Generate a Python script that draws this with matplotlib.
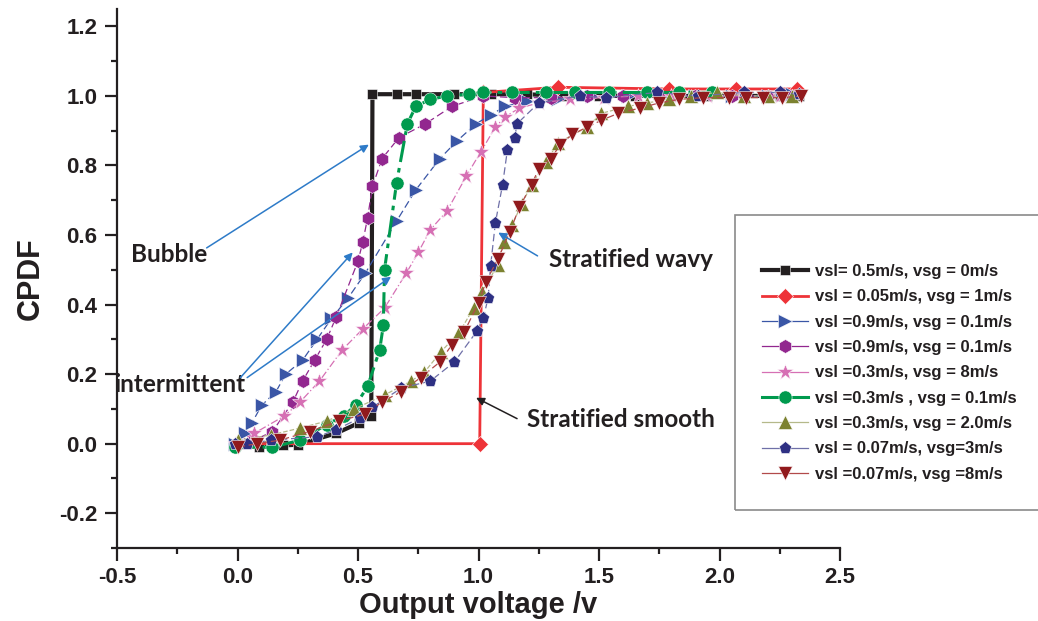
import numpy as np
import matplotlib
matplotlib.use("Agg")
from matplotlib import pyplot as plt
from matplotlib.patches import Rectangle
from matplotlib.lines import Line2D
from matplotlib.ticker import MultipleLocator

# CPDF curves
x_black = [0.0, 0.09, 0.19, 0.25, 0.41, 0.505, 0.555, 0.56, 0.66, 0.74, 0.9, 1.05, 1.2, 1.35, 1.5, 1.65, 1.8, 1.95, 2.1, 2.25, 2.33]
y_black = [0.0, -0.01, -0.005, -0.003, 0.03, 0.06, 0.08, 1.005, 1.005, 1.005, 1.005, 1.005, 1.005, 1.0, 1.0, 1.0, 1.0, 1.0, 1.0, 1.0, 1.0]

x_red = [0.0, 1.005, 1.02, 1.33, 1.79, 2.07, 2.32]
y_red = [0.0, 0.0, 1.01, 1.025, 1.02, 1.02, 1.02]

x_blue = [-0.01, 0.03, 0.06, 0.10, 0.16, 0.20, 0.27, 0.33, 0.39, 0.46, 0.53, 0.66, 0.74, 0.84, 0.91, 0.99, 1.05, 1.11,
          1.2, 1.33, 1.47, 1.62, 1.77, 1.9, 2.05, 2.2, 2.3]
y_blue = [0.0, 0.03, 0.06, 0.11, 0.15, 0.20, 0.24, 0.30, 0.36, 0.42, 0.49, 0.64, 0.73, 0.82, 0.87, 0.92, 0.945, 0.97,
          0.985, 0.99, 1.0, 1.0, 1.0, 1.0, 1.0, 1.0, 1.005]

x_purple = [0.0, 0.07, 0.145, 0.23, 0.27, 0.32, 0.37, 0.41, 0.50, 0.52, 0.54, 0.56, 0.60, 0.67, 0.78, 0.89, 1.02,
            1.15, 1.3, 1.45, 1.6, 1.75, 1.9, 2.05, 2.2, 2.3]
y_purple = [0.0, 0.01, 0.035, 0.12, 0.18, 0.24, 0.30, 0.365, 0.525, 0.58, 0.65, 0.74, 0.82, 0.88, 0.92, 0.97, 1.0,
            0.995, 0.995, 1.0, 1.0, 1.0, 1.0, 1.0, 1.0, 1.0]

x_pink = [-0.01, 0.07, 0.195, 0.26, 0.34, 0.435, 0.52, 0.61, 0.70, 0.75, 0.80, 0.87, 0.95, 1.01, 1.07, 1.11, 1.17,
          1.25, 1.38, 1.52, 1.66, 1.8, 1.95, 2.1, 2.25]
y_pink = [0.0, 0.03, 0.08, 0.12, 0.18, 0.27, 0.33, 0.39, 0.49, 0.55, 0.615, 0.67, 0.77, 0.84, 0.91, 0.94, 0.965,
          0.98, 0.99, 0.995, 1.0, 1.0, 1.0, 1.0, 1.0]

x_green = [-0.01, 0.145, 0.26, 0.37, 0.44, 0.49, 0.54, 0.59, 0.605, 0.61, 0.66, 0.705, 0.74, 0.80, 0.87, 0.96, 1.02,
           1.14, 1.28, 1.40, 1.54, 1.70, 1.83, 1.97]
y_green = [-0.01, -0.01, 0.01, 0.055, 0.08, 0.11, 0.165, 0.27, 0.34, 0.50, 0.75, 0.92, 0.97, 0.99, 1.0, 1.005, 1.01,
           1.01, 1.01, 1.01, 1.01, 1.01, 1.01, 1.01]

x_olive = [0.0, 0.14, 0.26, 0.37, 0.485, 0.61, 0.72, 0.775, 0.845, 0.92, 0.98, 1.015, 1.08, 1.105, 1.14, 1.18, 1.22,
           1.28, 1.33, 1.45, 1.51, 1.62, 1.70, 1.79, 1.88, 1.99, 2.1, 2.2, 2.3]
y_olive = [0.01, 0.025, 0.045, 0.065, 0.10, 0.14, 0.18, 0.205, 0.265, 0.32, 0.39, 0.435, 0.515, 0.58, 0.63, 0.69, 0.745,
           0.81, 0.865, 0.91, 0.95, 0.97, 0.98, 0.99, 1.0, 1.01, 1.0, 1.0, 1.0]

x_navy = [-0.01, 0.04, 0.14, 0.33, 0.41, 0.51, 0.56, 0.68, 0.80, 0.90, 0.995, 1.02, 1.04, 1.05, 1.07, 1.10, 1.12, 1.15,
          1.16, 1.25, 1.42, 1.53, 1.74, 1.91, 2.10, 2.25, 2.33]
y_navy = [0.0, 0.0, 0.01, 0.02, 0.04, 0.075, 0.105, 0.16, 0.18, 0.235, 0.325, 0.36, 0.42, 0.51, 0.635, 0.745, 0.845,
          0.88, 0.92, 0.98, 1.0, 0.995, 1.01, 1.0, 1.01, 1.01, 1.005]

x_dred = [0.0, 0.08, 0.175, 0.30, 0.42, 0.53, 0.60, 0.68, 0.76, 0.84, 0.89, 0.94, 1.00, 1.03, 1.08, 1.13, 1.17, 1.22,
          1.25, 1.30, 1.34, 1.39, 1.45, 1.51, 1.58, 1.67, 1.75, 1.83, 1.93, 2.04, 2.11, 2.18, 2.26, 2.34]
y_dred = [-0.01, 0.0, 0.01, 0.035, 0.065, 0.085, 0.12, 0.15, 0.19, 0.235, 0.285, 0.32, 0.405, 0.465, 0.53, 0.61, 0.68,
          0.745, 0.79, 0.82, 0.86, 0.89, 0.91, 0.93, 0.95, 0.965, 0.98, 0.99, 0.995, 0.995, 0.995, 0.995, 0.995, 1.0]

labels = ["vsl= 0.5m/s, vsg = 0m/s",
          "vsl = 0.05m/s, vsg = 1m/s",
          "vsl =0.9m/s, vsg = 0.1m/s",
          "vsl =0.9m/s, vsg = 0.1m/s",
          "vsl =0.3m/s, vsg = 8m/s",
          "vsl =0.3m/s , vsg = 0.1m/s",
          "vsl =0.3m/s, vsg = 2.0m/s",
          "vsl = 0.07m/s, vsg=3m/s",
          "vsl =0.07m/s, vsg =8m/s"]

fig = plt.figure(figsize=(10.38, 6.21), dpi=100)
ax = fig.add_axes([117/1038, 1 - 548/621, (840 - 117)/1038, (548 - 9)/621])

wk = dict(markeredgecolor="white", markeredgewidth=0.4)
lines = []
lines += ax.plot(x_black, y_black, "-", color="#231F20", lw=3, marker="s", ms=7, **wk)
lines += ax.plot(x_red, y_red, "-", color="#EE3338", lw=2, marker="D", ms=8, **wk)
lines += ax.plot(x_blue, y_blue, color="#3A56A6", lw=0.9, ls=(0, (6, 3)), marker=">", ms=10, **wk)
lines += ax.plot(x_purple, y_purple, color="#92278F", lw=0.9, ls=(0, (6, 3)), marker="h", ms=10, **wk)
lines += ax.plot(x_pink, y_pink, color="#D670B4", lw=0.9, ls=(0, (6, 2, 1, 2)), marker="*", ms=12, **wk)
lines += ax.plot(x_green, y_green, color="#009A4E", lw=2.2, ls=(0, (7, 2, 1.5, 2)), marker="o", ms=9.5, **wk)
lines += ax.plot(x_olive, y_olive, color="#B5B98A", lw=0.9, ls="--", marker="^", ms=10,
                 markerfacecolor="#7C8230", **wk)
lines += ax.plot(x_navy, y_navy, color="#6F70A8", lw=0.9, ls=(0, (6, 3)), marker="p", ms=9.5,
                 markerfacecolor="#2E3083", **wk)
lines += ax.plot(x_dred, y_dred, color="#B24A4A", lw=0.9, ls=(0, (6, 3)), marker="v", ms=10,
                 markerfacecolor="#911A1D", **wk)

ax.set_xlim(-0.5, 2.5)
ax.set_ylim(-0.3, 1.25)
ax.spines["top"].set_visible(False)
ax.spines["right"].set_visible(False)
for s in ("left", "bottom"):
    ax.spines[s].set_linewidth(1.6)
    ax.spines[s].set_color("#231F20")

ax.xaxis.set_major_locator(MultipleLocator(0.5))
ax.xaxis.set_minor_locator(MultipleLocator(0.25))
ax.yaxis.set_major_locator(MultipleLocator(0.2))
ax.yaxis.set_minor_locator(MultipleLocator(0.1))
ax.tick_params(which="major", direction="out", length=9, width=1.6, color="#231F20", pad=5)
ax.tick_params(which="minor", direction="out", length=4.5, width=1.6, color="#231F20")
ax.set_yticks([-0.2, 0.0, 0.2, 0.4, 0.6, 0.8, 1.0, 1.2])

tick_font = ["Liberation Sans Narrow", "Liberation Sans", "DejaVu Sans"]
ax.set_xticks([-0.5, 0.0, 0.5, 1.0, 1.5, 2.0, 2.5])
ax.set_xticklabels(["%.1f" % v for v in ax.get_xticks()])
ax.set_yticklabels(["%.1f" % v for v in ax.get_yticks()])
for t in ax.get_xticklabels() + ax.get_yticklabels():
    t.set_fontfamily(tick_font)
    t.set_fontweight("bold")
    t.set_fontsize(16)
    t.set_color("#231F20")

ax.set_xlabel("Output voltage /v", fontsize=21, fontweight="bold", family=["Liberation Sans", "DejaVu Sans"],
              color="#231F20", labelpad=2)
ax.set_ylabel("CPDF", fontsize=22, fontweight="bold", family=["Liberation Sans", "DejaVu Sans"],
              color="#231F20", labelpad=10)

# flow-regime annotations
note_font = ["Lato", "Open Sans", "DejaVu Sans"]
nk = dict(fontsize=17.5, fontweight="bold", family=note_font, color="#231F20", va="center")
blue_arrow = dict(arrowstyle="-|>", color="#2E7BC8", lw=1.1, mutation_scale=12, shrinkA=0, shrinkB=0)
black_arrow = dict(arrowstyle="-|>", color="#231F20", lw=1.1, mutation_scale=12, shrinkA=0, shrinkB=0)

ax.text(-0.44, 0.545, "Bubble", **nk)
ax.annotate("", xy=(0.545, 0.86), xytext=(-0.128, 0.563), arrowprops=blue_arrow)
ax.text(-0.51, 0.17, "intermittent", **nk)
ax.annotate("", xy=(0.478, 0.55), xytext=(0.012, 0.19), arrowprops=blue_arrow)
ax.annotate("", xy=(0.637, 0.48), xytext=(0.04, 0.19), arrowprops=blue_arrow)
ax.text(1.293, 0.53, "Stratified wavy", **nk)
ax.annotate("", xy=(1.082, 0.607), xytext=(1.245, 0.54), arrowprops=blue_arrow)
ax.text(1.2, 0.07, "Stratified smooth", **nk)
ax.annotate("", xy=(0.99, 0.132), xytext=(1.16, 0.072), arrowprops=black_arrow)

# legend box that runs off the right edge; legend keys drawn with solid lines
fig.patches.append(Rectangle((735/1038, 1 - 510/621), (1070 - 735)/1038, (510 - 215)/621,
                             transform=fig.transFigure, fill=False, edgecolor="#8A8A8A", lw=1.2))
keys = [Line2D([], [], color=ln.get_color(), lw=ln.get_linewidth(), ls="-", marker=ln.get_marker(),
               ms=ln.get_markersize(), markerfacecolor=ln.get_markerfacecolor(),
               markeredgecolor="white", markeredgewidth=0.4) for ln in lines]
fig.legend(keys, labels, loc="upper left", bbox_to_anchor=(762/1038, 1 - 264/621), frameon=False,
           borderaxespad=0, borderpad=0, handlelength=2.75, handletextpad=0.42, labelspacing=0.62,
           prop=dict(family=["Liberation Sans", "DejaVu Sans"], weight="bold", size=12),
           labelcolor="#231F20")

fig.savefig("out.png", dpi=100)
